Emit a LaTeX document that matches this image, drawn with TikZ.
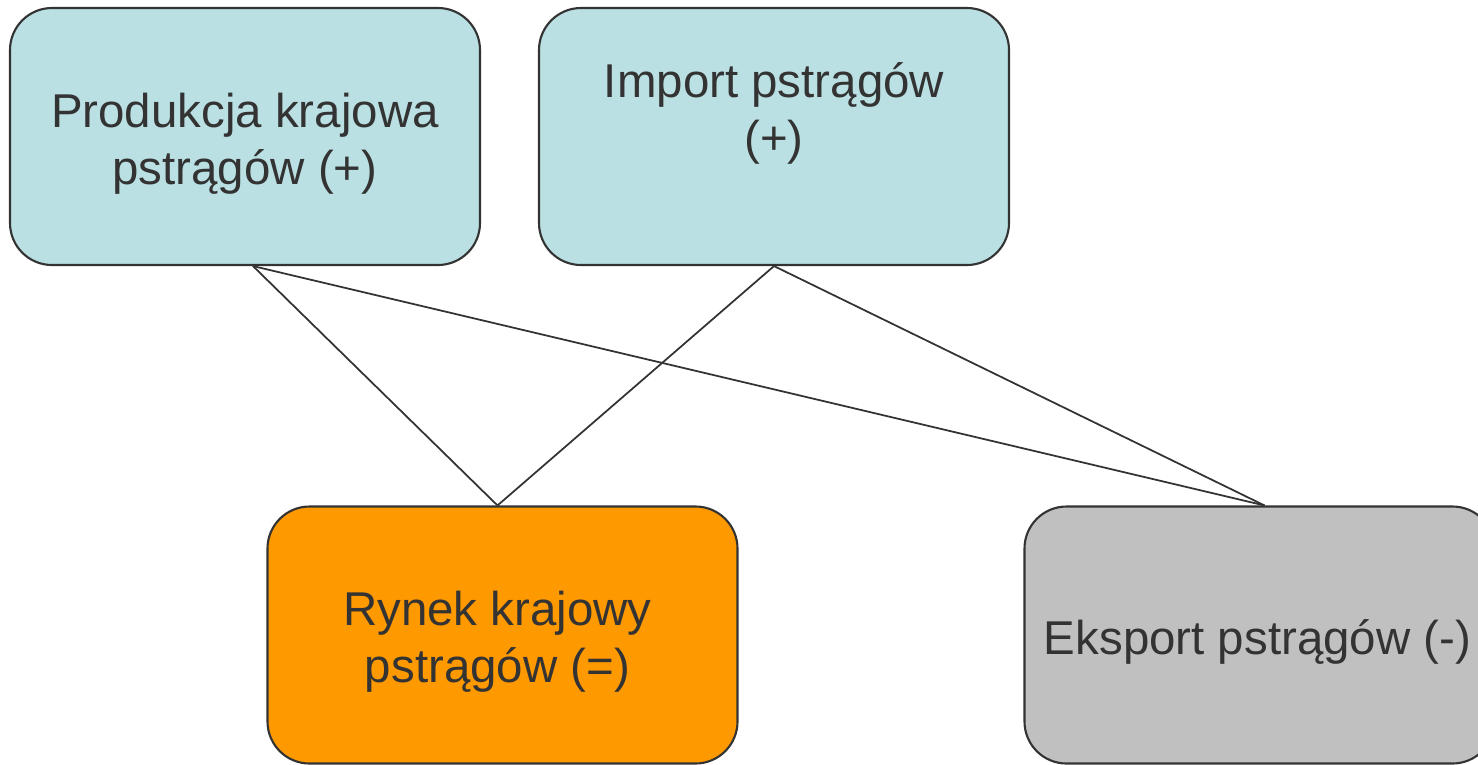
\documentclass[tikz,border=0pt]{standalone}
\usepackage{fontspec}
\setmainfont{Liberation Sans}
\usepackage{tikz}
\usetikzlibrary{positioning}
\definecolor{boxcyan}{HTML}{BBE0E3}
\definecolor{boxorange}{HTML}{FF9900}
\definecolor{boxgray}{HTML}{C0C0C0}
\definecolor{inkgray}{HTML}{333333}
\tikzset{
    flowbox/.style={draw=inkgray, line width=0.6pt, rounded corners=0.42cm,
      minimum width=4.7cm, minimum height=2.57cm, inner sep=0pt},
    boxtext/.style={align=center, text=inkgray,
      font=\fontsize{13.5}{16.2}\selectfont},
}

\begin{document}
\begin{tikzpicture}
    \useasboundingbox (0,0) rectangle (14.78,-7.64);
    \tikzset{
    link/.style={draw=inkgray, line width=0.5pt},
    }

    % Sources (top row).
    \node [flowbox, fill=boxcyan] (prod) at (2.45,-1.365) {};
    \node [flowbox, fill=boxcyan] (imp) at (7.74,-1.365) {};
    \node [boxtext] (prodtxt) at ([yshift=-0.07cm]prod.center) {Produkcja krajowa\\pstrągów (+)};
    \node [boxtext] (imptxt) at ([yshift=0.23cm]imp.center) {Import pstrągów\\(+)};

    % Destinations (bottom row).
    \node [flowbox, fill=boxorange] (rynek) at (5.025,-6.35) {};
    \begin{scope}
      \clip (0,0) rectangle (14.78,-7.64);
      \node [flowbox, fill=boxgray] (eksp) at (12.595,-6.35) {};
    \end{scope}
    \node [boxtext] (rynektxt) at ([xshift=-0.05cm,yshift=-0.07cm]rynek.center) {Rynek krajowy\\pstrągów (=)};
    \node [boxtext] (eksptxt) at ([xshift=-0.02cm,yshift=-0.07cm]eksp.center) {Eksport pstrągów (-)};

    % Connections.
    \draw [link] ([xshift=0.08cm]prod.south) -- ([xshift=-0.05cm]rynek.north);
    \draw [link] ([xshift=0.08cm]prod.south) -- ([xshift=0.05cm]eksp.north);
    \draw [link] (imp.south) -- ([xshift=-0.05cm]rynek.north);
    \draw [link] (imp.south) -- ([xshift=0.05cm]eksp.north);
\end{tikzpicture}
\end{document}
